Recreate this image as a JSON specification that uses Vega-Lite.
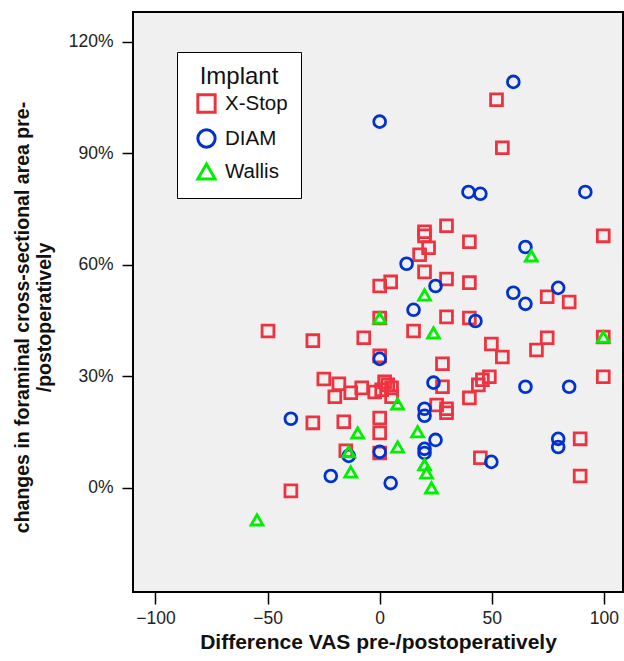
{
  "$schema": "https://vega.github.io/schema/vega-lite/v6.json",
  "autosize": "none",
  "width": 490,
  "height": 580,
  "padding": {"left": 133, "top": 12, "right": 1, "bottom": 69},
  "background": "white",
  "config": {
    "font": "Liberation Sans",
    "view": {"fill": "#f0f0f0", "stroke": "black", "strokeWidth": 2},
    "axis": {
      "grid": false,
      "domain": false,
      "tickColor": "black",
      "tickWidth": 1.5,
      "tickSize": 12,
      "labelFontSize": 17.5,
      "labelColor": "#222222",
      "labelFont": "Liberation Sans",
      "titleFont": "Liberation Sans",
      "titleFontWeight": "bold",
      "titleColor": "#111111"
    },
    "legend": {
      "orient": "none",
      "legendX": 44,
      "legendY": 40,
      "fillColor": "white",
      "strokeColor": "black",
      "padding": 13,
      "titleFontSize": 24,
      "titleFontWeight": "normal",
      "titleColor": "#111111",
      "titleAnchor": "middle",
      "titleFont": "Liberation Sans",
      "labelFont": "Liberation Sans",
      "labelFontSize": 20.5,
      "labelColor": "#111111",
      "labelOffset": 8,
      "symbolSize": 300,
      "symbolStrokeWidth": 3,
      "symbolOffset": 6,
      "rowPadding": 4,
      "titlePadding": 4
    }
  },
  "data": {
    "values": [
      {"implant": "X-Stop", "vas": 52.1, "area": 104.4},
      {"implant": "X-Stop", "vas": 54.7, "area": 91.5},
      {"implant": "X-Stop", "vas": 99.7, "area": 67.8},
      {"implant": "X-Stop", "vas": 29.8, "area": 70.5},
      {"implant": "X-Stop", "vas": 20.0, "area": 68.9},
      {"implant": "X-Stop", "vas": 20.0, "area": 67.8},
      {"implant": "X-Stop", "vas": 21.8, "area": 64.6},
      {"implant": "X-Stop", "vas": 17.8, "area": 62.7},
      {"implant": "X-Stop", "vas": 40.0, "area": 66.2},
      {"implant": "X-Stop", "vas": 20.0, "area": 58.1},
      {"implant": "X-Stop", "vas": 29.8, "area": 56.2},
      {"implant": "X-Stop", "vas": 40.0, "area": 55.2},
      {"implant": "X-Stop", "vas": 0.0, "area": 54.3},
      {"implant": "X-Stop", "vas": 4.9, "area": 55.4},
      {"implant": "X-Stop", "vas": 74.7, "area": 51.4},
      {"implant": "X-Stop", "vas": 84.5, "area": 50.0},
      {"implant": "X-Stop", "vas": 99.7, "area": 40.6},
      {"implant": "X-Stop", "vas": 99.7, "area": 29.9},
      {"implant": "X-Stop", "vas": 0.0, "area": 45.7},
      {"implant": "X-Stop", "vas": 15.1, "area": 42.2},
      {"implant": "X-Stop", "vas": 29.8, "area": 46.0},
      {"implant": "X-Stop", "vas": 40.0, "area": 45.7},
      {"implant": "X-Stop", "vas": 49.8, "area": 38.7},
      {"implant": "X-Stop", "vas": 54.7, "area": 35.2},
      {"implant": "X-Stop", "vas": 74.7, "area": 40.4},
      {"implant": "X-Stop", "vas": 69.9, "area": 37.1},
      {"implant": "X-Stop", "vas": 0.0, "area": 35.5},
      {"implant": "X-Stop", "vas": 28.0, "area": 33.4},
      {"implant": "X-Stop", "vas": 28.0, "area": 27.2},
      {"implant": "X-Stop", "vas": 44.0, "area": 27.7},
      {"implant": "X-Stop", "vas": 45.8, "area": 29.1},
      {"implant": "X-Stop", "vas": 48.9, "area": 29.9},
      {"implant": "X-Stop", "vas": 40.0, "area": 24.2},
      {"implant": "X-Stop", "vas": 25.4, "area": 22.3},
      {"implant": "X-Stop", "vas": 29.8, "area": 21.3},
      {"implant": "X-Stop", "vas": 29.8, "area": 20.2},
      {"implant": "X-Stop", "vas": 0.0, "area": 18.8},
      {"implant": "X-Stop", "vas": 0.0, "area": 14.8},
      {"implant": "X-Stop", "vas": 0.0, "area": 9.4},
      {"implant": "X-Stop", "vas": 44.9, "area": 8.1},
      {"implant": "X-Stop", "vas": 89.4, "area": 13.2},
      {"implant": "X-Stop", "vas": 89.4, "area": 3.2},
      {"implant": "X-Stop", "vas": -49.8, "area": 42.2},
      {"implant": "X-Stop", "vas": -29.8, "area": 39.6},
      {"implant": "X-Stop", "vas": -7.1, "area": 40.4},
      {"implant": "X-Stop", "vas": -24.9, "area": 29.3},
      {"implant": "X-Stop", "vas": -18.2, "area": 28.0},
      {"implant": "X-Stop", "vas": -20.0, "area": 24.5},
      {"implant": "X-Stop", "vas": -12.9, "area": 25.6},
      {"implant": "X-Stop", "vas": -8.0, "area": 26.9},
      {"implant": "X-Stop", "vas": -2.2, "area": 25.8},
      {"implant": "X-Stop", "vas": 0.9, "area": 26.4},
      {"implant": "X-Stop", "vas": 2.2, "area": 28.5},
      {"implant": "X-Stop", "vas": 3.6, "area": 27.7},
      {"implant": "X-Stop", "vas": 5.3, "area": 26.9},
      {"implant": "X-Stop", "vas": 5.3, "area": 24.5},
      {"implant": "X-Stop", "vas": -29.8, "area": 17.5},
      {"implant": "X-Stop", "vas": -16.0, "area": 17.8},
      {"implant": "X-Stop", "vas": -15.1, "area": 10.0},
      {"implant": "X-Stop", "vas": -39.6, "area": -0.8},
      {"implant": "DIAM", "vas": 59.6, "area": 109.2},
      {"implant": "DIAM", "vas": 0.0, "area": 98.5},
      {"implant": "DIAM", "vas": 39.6, "area": 79.6},
      {"implant": "DIAM", "vas": 44.9, "area": 79.1},
      {"implant": "DIAM", "vas": 91.7, "area": 79.6},
      {"implant": "DIAM", "vas": 65.0, "area": 64.8},
      {"implant": "DIAM", "vas": 12.0, "area": 60.3},
      {"implant": "DIAM", "vas": 24.9, "area": 54.3},
      {"implant": "DIAM", "vas": 59.6, "area": 52.5},
      {"implant": "DIAM", "vas": 79.6, "area": 53.8},
      {"implant": "DIAM", "vas": 65.0, "area": 49.5},
      {"implant": "DIAM", "vas": 15.1, "area": 47.9},
      {"implant": "DIAM", "vas": 42.7, "area": 44.9},
      {"implant": "DIAM", "vas": 0.0, "area": 34.7},
      {"implant": "DIAM", "vas": 24.0, "area": 28.3},
      {"implant": "DIAM", "vas": 65.0, "area": 27.2},
      {"implant": "DIAM", "vas": 84.5, "area": 27.2},
      {"implant": "DIAM", "vas": 20.0, "area": 21.3},
      {"implant": "DIAM", "vas": 20.0, "area": 19.4},
      {"implant": "DIAM", "vas": 24.9, "area": 12.9},
      {"implant": "DIAM", "vas": 20.0, "area": 10.5},
      {"implant": "DIAM", "vas": 20.0, "area": 9.4},
      {"implant": "DIAM", "vas": 0.0, "area": 9.7},
      {"implant": "DIAM", "vas": -13.8, "area": 8.6},
      {"implant": "DIAM", "vas": 49.8, "area": 7.0},
      {"implant": "DIAM", "vas": 79.6, "area": 13.2},
      {"implant": "DIAM", "vas": 79.6, "area": 11.0},
      {"implant": "DIAM", "vas": 4.9, "area": 1.3},
      {"implant": "DIAM", "vas": -39.6, "area": 18.6},
      {"implant": "DIAM", "vas": -21.8, "area": 3.2},
      {"implant": "Wallis", "vas": 67.6, "area": 62.4},
      {"implant": "Wallis", "vas": 20.0, "area": 51.9},
      {"implant": "Wallis", "vas": 0.0, "area": 45.7},
      {"implant": "Wallis", "vas": 24.0, "area": 41.7},
      {"implant": "Wallis", "vas": 99.7, "area": 40.6},
      {"implant": "Wallis", "vas": 8.0, "area": 22.6},
      {"implant": "Wallis", "vas": -9.8, "area": 14.8},
      {"implant": "Wallis", "vas": 16.9, "area": 15.1},
      {"implant": "Wallis", "vas": 8.0, "area": 11.0},
      {"implant": "Wallis", "vas": -13.8, "area": 9.7},
      {"implant": "Wallis", "vas": -12.9, "area": 4.3},
      {"implant": "Wallis", "vas": 20.0, "area": 6.2},
      {"implant": "Wallis", "vas": 20.9, "area": 4.0},
      {"implant": "Wallis", "vas": 23.1, "area": 0.0},
      {"implant": "Wallis", "vas": -54.7, "area": -8.6}
    ]
  },
  "mark": {"type": "point", "filled": false, "size": 140, "strokeWidth": 2.8, "opacity": 1},
  "encoding": {
    "x": {
      "field": "vas",
      "type": "quantitative",
      "scale": {"domain": [-110, 108.5], "nice": false, "zero": false},
      "axis": {
        "values": [-100, -50, 0, 50, 100],
        "title": "Difference VAS pre-/postoperatively",
        "titleFontSize": 21,
        "labelPadding": 5,
        "titlePadding": 5
      }
    },
    "y": {
      "field": "area",
      "type": "quantitative",
      "scale": {"domain": [-28, 128], "nice": false, "zero": false},
      "axis": {
        "values": [0, 30, 60, 90, 120],
        "labelExpr": "datum.value + '%'",
        "tickSize": 11,
        "labelPadding": 9,
        "title": ["changes in foraminal cross-sectional area pre-", "/postoperatively"],
        "titleFontSize": 19.5,
        "titleLineHeight": 22,
        "titlePadding": 14,
        "titleY": 305
      }
    },
    "color": {
      "field": "implant",
      "type": "nominal",
      "scale": {"domain": ["X-Stop", "DIAM", "Wallis"], "range": ["#ee3340", "#0033cc", "#00ee00"]},
      "legend": {"title": "Implant"}
    },
    "shape": {
      "field": "implant",
      "type": "nominal",
      "scale": {"domain": ["X-Stop", "DIAM", "Wallis"], "range": ["square", "circle", "triangle-up"]},
      "legend": {"title": "Implant"}
    }
  }
}
